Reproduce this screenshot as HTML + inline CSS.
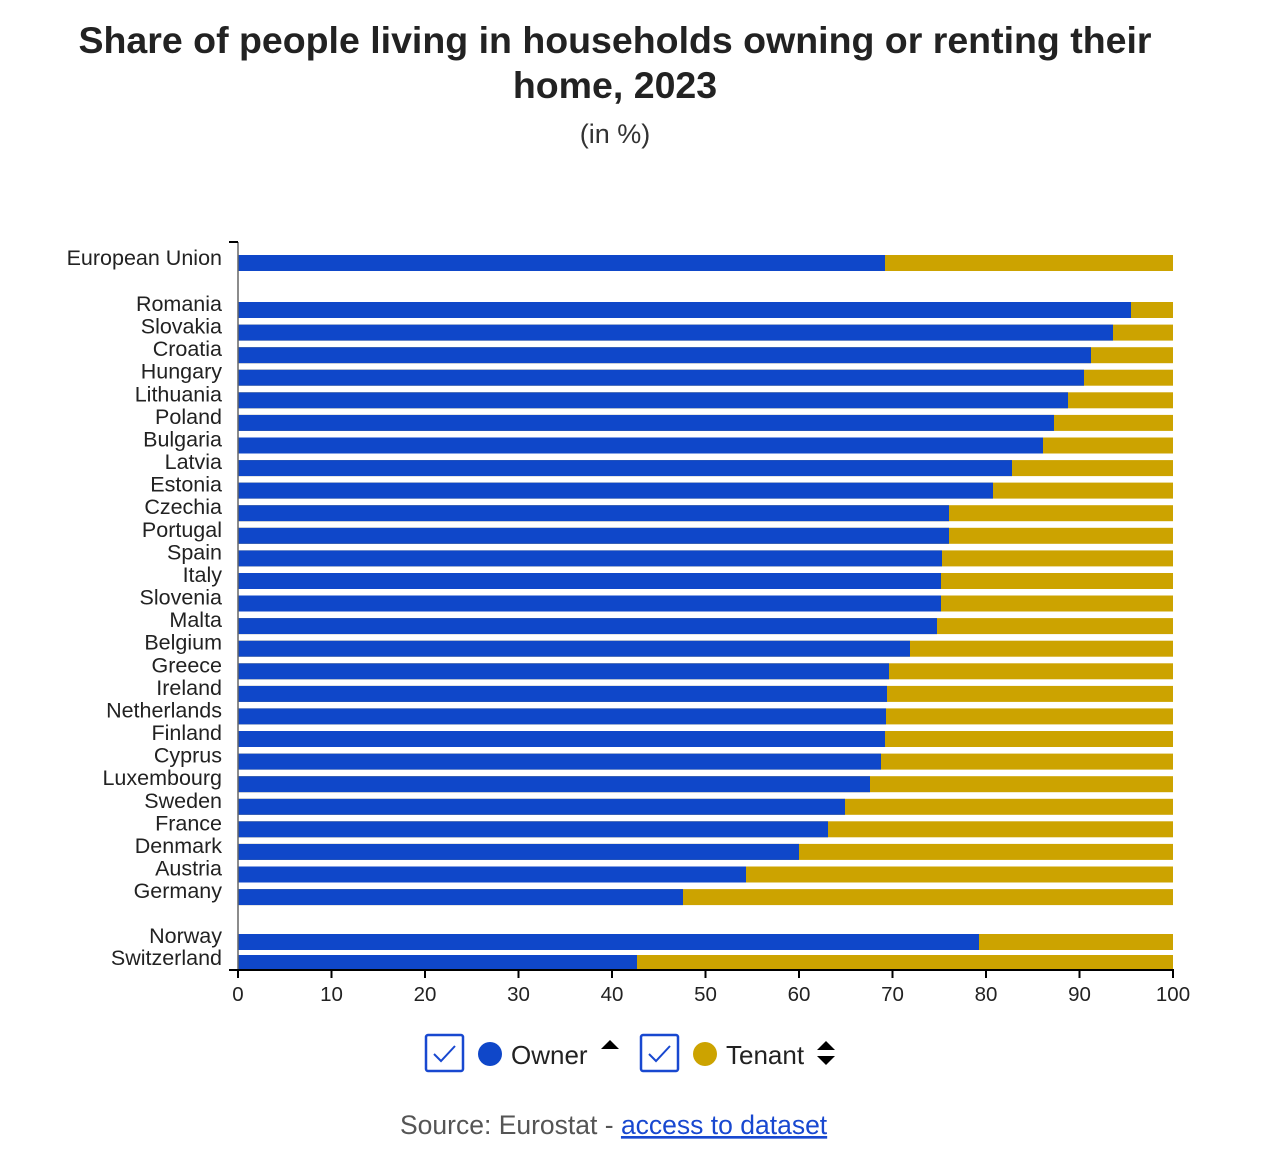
<!DOCTYPE html>
<html><head><meta charset="utf-8"><style>body{margin:0;background:#fff}svg{display:block}</style></head>
<body>
<svg width="1282" height="1165" viewBox="0 0 1282 1165" xmlns="http://www.w3.org/2000/svg" font-family="Liberation Sans, Arial, sans-serif">
<text x="615" y="53" font-size="37.5" font-weight="bold" text-anchor="middle" fill="#222">Share of people living in households owning or renting their</text>
<text x="615" y="98" font-size="37.5" font-weight="bold" text-anchor="middle" fill="#222">home, 2023</text>
<text x="615" y="143" font-size="27" text-anchor="middle" fill="#333">(in %)</text>
<g fill="#cca300">
<rect x="238" y="255" width="935" height="16"/>
<rect x="238" y="302" width="935" height="16"/>
<rect x="238" y="324.6" width="935" height="16"/>
<rect x="238" y="347.2" width="935" height="16"/>
<rect x="238" y="369.7" width="935" height="16"/>
<rect x="238" y="392.3" width="935" height="16"/>
<rect x="238" y="414.9" width="935" height="16"/>
<rect x="238" y="437.5" width="935" height="16"/>
<rect x="238" y="460.1" width="935" height="16"/>
<rect x="238" y="482.6" width="935" height="16"/>
<rect x="238" y="505.2" width="935" height="16"/>
<rect x="238" y="527.8" width="935" height="16"/>
<rect x="238" y="550.4" width="935" height="16"/>
<rect x="238" y="573" width="935" height="16"/>
<rect x="238" y="595.5" width="935" height="16"/>
<rect x="238" y="618.1" width="935" height="16"/>
<rect x="238" y="640.7" width="935" height="16"/>
<rect x="238" y="663.3" width="935" height="16"/>
<rect x="238" y="685.9" width="935" height="16"/>
<rect x="238" y="708.4" width="935" height="16"/>
<rect x="238" y="731" width="935" height="16"/>
<rect x="238" y="753.6" width="935" height="16"/>
<rect x="238" y="776.2" width="935" height="16"/>
<rect x="238" y="798.8" width="935" height="16"/>
<rect x="238" y="821.3" width="935" height="16"/>
<rect x="238" y="843.9" width="935" height="16"/>
<rect x="238" y="866.5" width="935" height="16"/>
<rect x="238" y="889.1" width="935" height="16"/>
<rect x="238" y="934" width="935" height="16"/>
<rect x="238" y="955" width="935" height="15"/>
</g>
<g fill="#0f47c9">
<rect x="238" y="255" width="647" height="16"/>
<rect x="238" y="302" width="893" height="16"/>
<rect x="238" y="324.6" width="875" height="16"/>
<rect x="238" y="347.2" width="853" height="16"/>
<rect x="238" y="369.7" width="846" height="16"/>
<rect x="238" y="392.3" width="830" height="16"/>
<rect x="238" y="414.9" width="816" height="16"/>
<rect x="238" y="437.5" width="805" height="16"/>
<rect x="238" y="460.1" width="774" height="16"/>
<rect x="238" y="482.6" width="755" height="16"/>
<rect x="238" y="505.2" width="711" height="16"/>
<rect x="238" y="527.8" width="711" height="16"/>
<rect x="238" y="550.4" width="704" height="16"/>
<rect x="238" y="573" width="703" height="16"/>
<rect x="238" y="595.5" width="703" height="16"/>
<rect x="238" y="618.1" width="699" height="16"/>
<rect x="238" y="640.7" width="672" height="16"/>
<rect x="238" y="663.3" width="651" height="16"/>
<rect x="238" y="685.9" width="649" height="16"/>
<rect x="238" y="708.4" width="648" height="16"/>
<rect x="238" y="731" width="647" height="16"/>
<rect x="238" y="753.6" width="643" height="16"/>
<rect x="238" y="776.2" width="632" height="16"/>
<rect x="238" y="798.8" width="607" height="16"/>
<rect x="238" y="821.3" width="590" height="16"/>
<rect x="238" y="843.9" width="561" height="16"/>
<rect x="238" y="866.5" width="508" height="16"/>
<rect x="238" y="889.1" width="445" height="16"/>
<rect x="238" y="934" width="741" height="16"/>
<rect x="238" y="955" width="399" height="15"/>
</g>
<g font-size="21.5" fill="#222" text-anchor="end">
<text x="222" y="265">European Union</text>
<text x="222" y="311">Romania</text>
<text x="222" y="333.6">Slovakia</text>
<text x="222" y="356.2">Croatia</text>
<text x="222" y="378.7">Hungary</text>
<text x="222" y="401.3">Lithuania</text>
<text x="222" y="423.9">Poland</text>
<text x="222" y="446.5">Bulgaria</text>
<text x="222" y="469.1">Latvia</text>
<text x="222" y="491.6">Estonia</text>
<text x="222" y="514.2">Czechia</text>
<text x="222" y="536.8">Portugal</text>
<text x="222" y="559.4">Spain</text>
<text x="222" y="582">Italy</text>
<text x="222" y="604.5">Slovenia</text>
<text x="222" y="627.1">Malta</text>
<text x="222" y="649.7">Belgium</text>
<text x="222" y="672.3">Greece</text>
<text x="222" y="694.9">Ireland</text>
<text x="222" y="717.4">Netherlands</text>
<text x="222" y="740">Finland</text>
<text x="222" y="762.6">Cyprus</text>
<text x="222" y="785.2">Luxembourg</text>
<text x="222" y="807.8">Sweden</text>
<text x="222" y="830.3">France</text>
<text x="222" y="852.9">Denmark</text>
<text x="222" y="875.5">Austria</text>
<text x="222" y="898.1">Germany</text>
<text x="222" y="943">Norway</text>
<text x="222" y="965">Switzerland</text>
</g>
<line x1="238" y1="242" x2="238" y2="970" stroke="#666" stroke-width="1.5"/>
<line x1="229" y1="242" x2="238" y2="242" stroke="#000" stroke-width="2"/>
<line x1="229" y1="970" x2="1174" y2="970" stroke="#000" stroke-width="2"/>
<g stroke="#000" stroke-width="2">
<line x1="238" y1="970" x2="238" y2="978"/><line x1="331.5" y1="970" x2="331.5" y2="978"/><line x1="425" y1="970" x2="425" y2="978"/><line x1="518.5" y1="970" x2="518.5" y2="978"/><line x1="612" y1="970" x2="612" y2="978"/><line x1="705.5" y1="970" x2="705.5" y2="978"/><line x1="799" y1="970" x2="799" y2="978"/><line x1="892.5" y1="970" x2="892.5" y2="978"/><line x1="986" y1="970" x2="986" y2="978"/><line x1="1079.5" y1="970" x2="1079.5" y2="978"/><line x1="1173" y1="970" x2="1173" y2="978"/>
</g>
<g font-size="20.5" fill="#222" text-anchor="middle">
<text x="238" y="1001">0</text><text x="331.5" y="1001">10</text><text x="425" y="1001">20</text><text x="518.5" y="1001">30</text><text x="612" y="1001">40</text><text x="705.5" y="1001">50</text><text x="799" y="1001">60</text><text x="892.5" y="1001">70</text><text x="986" y="1001">80</text><text x="1079.5" y="1001">90</text><text x="1173" y="1001">100</text>
</g>
<rect x="426" y="1035" width="37" height="36" fill="none" stroke="#1848d0" stroke-width="2.5" rx="2"/>
<path d="M434 1054 l7 7 l14 -15" fill="none" stroke="#1848d0" stroke-width="2"/>
<circle cx="490" cy="1054" r="12" fill="#0f47c9"/>
<text x="511" y="1064" font-size="26" fill="#222">Owner</text>
<path d="M601 1049 l9 -9 l9 9z" fill="#000"/>
<rect x="641" y="1035" width="37" height="36" fill="none" stroke="#1848d0" stroke-width="2.5" rx="2"/>
<path d="M649 1054 l7 7 l14 -15" fill="none" stroke="#1848d0" stroke-width="2"/>
<circle cx="705" cy="1054" r="12" fill="#cca300"/>
<text x="726" y="1064" font-size="26" fill="#222">Tenant</text>
<path d="M817 1050 l9 -9 l9 9z M817 1056 l9 9 l9 -9z" fill="#000"/>
<text x="400" y="1134" font-size="26.5" fill="#555">Source: Eurostat - <tspan fill="#1848d0" text-decoration="underline">access to dataset</tspan></text>
</svg>
</body></html>
